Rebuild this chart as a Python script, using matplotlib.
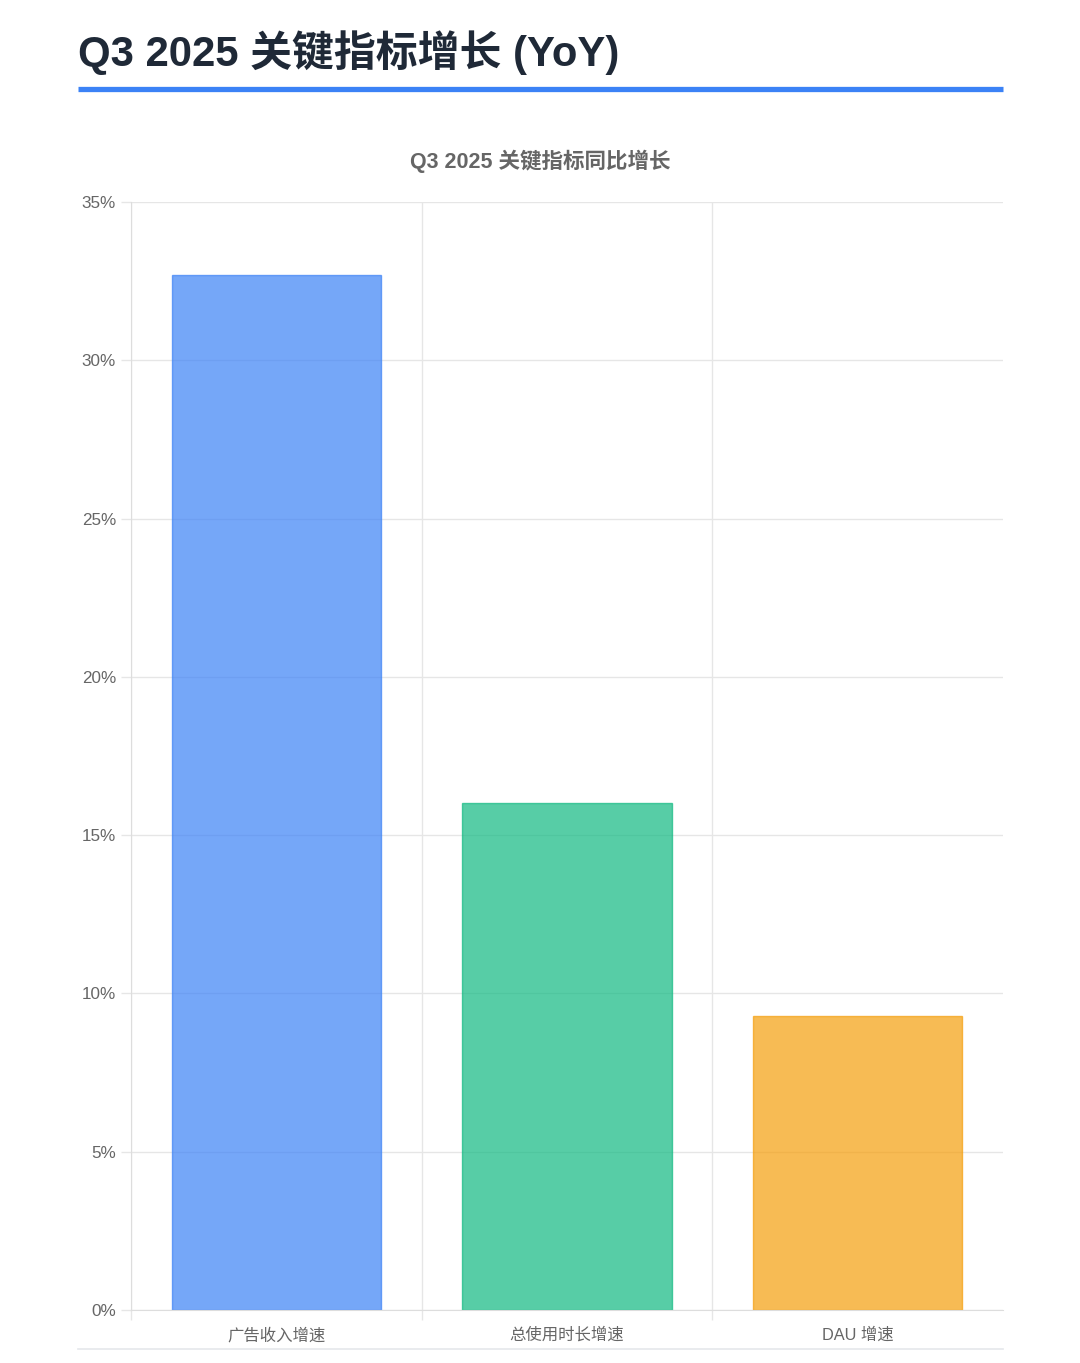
import matplotlib
matplotlib.use("Agg")
import matplotlib.pyplot as plt
from matplotlib.lines import Line2D
from matplotlib.ticker import FixedLocator, FuncFormatter

plt.rcParams['font.family'] = ['Liberation Sans', 'Noto Sans CJK SC', 'DejaVu Sans']

categories = ["广告收入增速", "总使用时长增速", "DAU 增速"]
growth = [32.7, 16.0, 9.3]
bar_colors = ["#3B82F6", "#10B981", "#F59E0B"]
y_ticks = [0, 5, 10, 15, 20, 25, 30, 35]

W, H = 1080, 1363
fig = plt.figure(figsize=(W / 100, H / 100), dpi=100)
fig.patch.set_facecolor("white")

# page header
fig.text(78 / W, 1 - 53 / H, "Q3 2025 关键指标增长 (YoY)", fontsize=30.2,
         fontweight="bold", color="#1F2937", ha="left", va="center")
fig.add_artist(Line2D([78 / W, 1003 / W], [1 - 89 / H, 1 - 89 / H],
                      color="#3B82F6", linewidth=3.8, solid_capstyle="butt"))
fig.add_artist(Line2D([78 / W, 1003 / W], [1 - 1349 / H, 1 - 1349 / H],
                      color="#E5E7EB", linewidth=1.2))

left, right, top, bottom = 131, 1003, 202, 1310
ax = fig.add_axes([left / W, 1 - bottom / H, (right - left) / W, (bottom - top) / H])

x = range(len(categories))
ax.bar(x, growth, width=0.72, color=bar_colors, alpha=0.7,
       edgecolor=bar_colors, linewidth=1, zorder=2)

ax.set_xlim(-0.5, len(categories) - 0.5)
ax.set_ylim(0, 35)
ax.yaxis.set_major_locator(FixedLocator(y_ticks))
ax.yaxis.set_major_formatter(FuncFormatter(lambda v, p: f"{v:.0f}%"))
ax.set_xticks(list(x))
ax.set_xticklabels(categories)
# category separators (none at the right edge)
ax.xaxis.set_minor_locator(FixedLocator([i - 0.5 for i in range(len(categories))]))

ax.grid(axis="y", which="major", color="#E6E6E6", linewidth=1, zorder=0)
ax.grid(axis="x", which="minor", color="#E6E6E6", linewidth=1, zorder=0)
ax.set_axisbelow(True)

for s in ["top", "right"]:
    ax.spines[s].set_visible(False)
ax.spines["bottom"].set_color("#DDDDDD")
ax.spines["left"].set_color("#DDDDDD")

ax.tick_params(axis="x", which="major", length=0, pad=12.5, labelsize=11.8, labelcolor="#666666")
ax.tick_params(axis="x", which="minor", length=7.2, color="#E6E6E6", width=1)
ax.tick_params(axis="y", length=7.2, color="#E6E6E6", width=1, pad=3.6,
               labelsize=12.3, labelcolor="#666666")

fig.text(540 / W, 1 - 161 / H, "Q3 2025 关键指标同比增长", fontsize=15.5,
         fontweight="bold", color="#666666", ha="center", va="center")

fig.savefig("out.png", dpi=100, facecolor="white")
